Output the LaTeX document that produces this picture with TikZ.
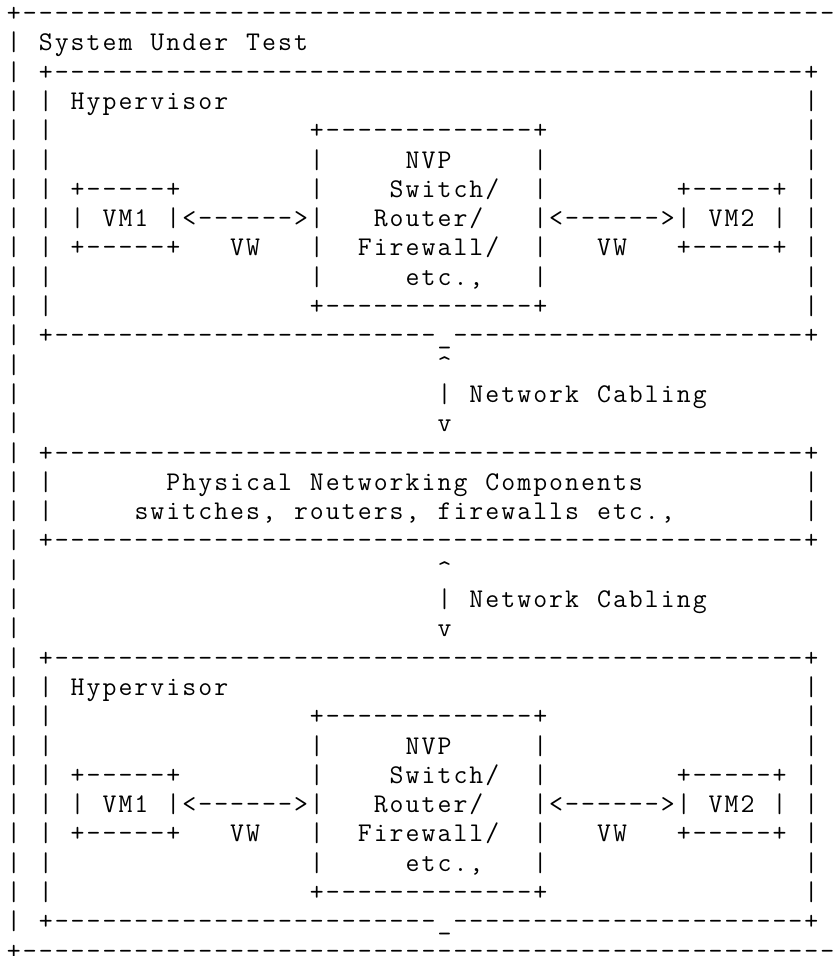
\documentclass[tikz,border=0pt]{standalone}
\newdimen\asciicw
\asciicw=15.95bp
\ExplSyntaxOn
\cs_new:Npn \asp #1 { \prg_replicate:nn {#1} { * } }
\cs_new:Npn \adsh #1 { \prg_replicate:nn {#1} { - } }
\tl_new:N \l_ascii_row_tl
\cs_new_protected:Npn \asciirow #1
  {
    \tl_set:Nx \l_ascii_row_tl {#1}
    \tl_map_inline:Nn \l_ascii_row_tl
      {
        \str_case:nnF {##1}
          {
            {*} { \hbox_to_wd:nn { \asciicw } { } }
            {!} { \hbox_to_wd:nn { \asciicw } { \hfil \textunderscore \hfil } }
            {;} { \hbox_to_wd:nn { \asciicw } { \hfil \textasciicircum \hfil } }
          }
          { \hbox_to_wd:nn { \asciicw } { \hfil ##1 \hfil } }
      }
  }
\ExplSyntaxOff
\begin{document}
\begin{tikzpicture}[x=1bp,y=-1bp,
  arow/.style={anchor=base west,inner sep=0pt,outer sep=0pt,text=black,
    font=\fontsize{27bp}{30bp}\selectfont\ttfamily}]
\useasboundingbox (0,0) rectangle (840,956);
\fill[white] (0,0) rectangle (840,956);
% outer box top and title
\node[arow] (r0) at (5.9,{21.5+29.3*0}) {\asciirow{+\adsh{51}}};
\node[arow] (r1) at (5.9,{21.5+29.3*1}) {\asciirow{|*System*Under*Test}};
% upper hypervisor
\node[arow] (r2) at (5.9,{21.5+29.3*2}) {\asciirow{|*+\adsh{47}+}};
\node[arow] (r3) at (5.9,{21.5+29.3*3}) {\asciirow{|*|*Hypervisor\asp{36}|}};
\node[arow] (r4) at (5.9,{21.5+29.3*4}) {\asciirow{|*|\asp{16}+\adsh{13}+\asp{16}|}};
\node[arow] (r5) at (5.9,{21.5+29.3*5}) {\asciirow{|*|\asp{16}|\asp{5}NVP\asp{5}|\asp{16}|}};
\node[arow] (r6) at (5.9,{21.5+29.3*6}) {\asciirow{|*|*+\adsh{5}+\asp{8}|\asp{4}Switch/\asp{2}|\asp{8}+\adsh{5}+*|}};
\node[arow] (r7) at (5.9,{21.5+29.3*7}) {\asciirow{|*|*|*VM1*|<\adsh{6}>|\asp{3}Router/\asp{3}|<\adsh{6}>|*VM2*|*|}};
\node[arow] (r8) at (5.9,{21.5+29.3*8}) {\asciirow{|*|*+\adsh{5}+\asp{3}VW\asp{3}|\asp{2}Firewall/\asp{2}|\asp{3}VW\asp{3}+\adsh{5}+*|}};
\node[arow] (r9) at (5.9,{21.5+29.3*9}) {\asciirow{|*|\asp{16}|\asp{5}etc.,\asp{3}|\asp{16}|}};
\node[arow] (r10) at (5.9,{21.5+29.3*10}) {\asciirow{|*|\asp{16}+\adsh{13}+\asp{16}|}};
\node[arow] (r11) at (5.9,{21.5+29.3*11}) {\asciirow{|*+\adsh{24}!\adsh{22}+}};
% cabling
\node[arow] (r12) at (5.9,{21.5+29.3*12}) {\asciirow{|\asp{26};}};
\node[arow] (r13) at (5.9,{21.5+29.3*13}) {\asciirow{|\asp{26}|*Network*Cabling}};
\node[arow] (r14) at (5.9,{21.5+29.3*14}) {\asciirow{|\asp{26}v}};
% physical networking components
\node[arow] (r15) at (5.9,{21.5+29.3*15}) {\asciirow{|*+\adsh{47}+}};
\node[arow] (r16) at (5.9,{21.5+29.3*16}) {\asciirow{|*|\asp{7}Physical*Networking*Components\asp{10}|}};
\node[arow] (r17) at (5.9,{21.5+29.3*17}) {\asciirow{|*|\asp{5}switches,*routers,*firewalls*etc.,\asp{8}|}};
\node[arow] (r18) at (5.9,{21.5+29.3*18}) {\asciirow{|*+\adsh{47}+}};
% cabling
\node[arow] (r19) at (5.9,{21.5+29.3*19}) {\asciirow{|\asp{26};}};
\node[arow] (r20) at (5.9,{21.5+29.3*20}) {\asciirow{|\asp{26}|*Network*Cabling}};
\node[arow] (r21) at (5.9,{21.5+29.3*21}) {\asciirow{|\asp{26}v}};
% lower hypervisor
\node[arow] (r22) at (5.9,{21.5+29.3*22}) {\asciirow{|*+\adsh{47}+}};
\node[arow] (r23) at (5.9,{21.5+29.3*23}) {\asciirow{|*|*Hypervisor\asp{36}|}};
\node[arow] (r24) at (5.9,{21.5+29.3*24}) {\asciirow{|*|\asp{16}+\adsh{13}+\asp{16}|}};
\node[arow] (r25) at (5.9,{21.5+29.3*25}) {\asciirow{|*|\asp{16}|\asp{5}NVP\asp{5}|\asp{16}|}};
\node[arow] (r26) at (5.9,{21.5+29.3*26}) {\asciirow{|*|*+\adsh{5}+\asp{8}|\asp{4}Switch/\asp{2}|\asp{8}+\adsh{5}+*|}};
\node[arow] (r27) at (5.9,{21.5+29.3*27}) {\asciirow{|*|*|*VM1*|<\adsh{6}>|\asp{3}Router/\asp{3}|<\adsh{6}>|*VM2*|*|}};
\node[arow] (r28) at (5.9,{21.5+29.3*28}) {\asciirow{|*|*+\adsh{5}+\asp{3}VW\asp{3}|\asp{2}Firewall/\asp{2}|\asp{3}VW\asp{3}+\adsh{5}+*|}};
\node[arow] (r29) at (5.9,{21.5+29.3*29}) {\asciirow{|*|\asp{16}|\asp{5}etc.,\asp{3}|\asp{16}|}};
\node[arow] (r30) at (5.9,{21.5+29.3*30}) {\asciirow{|*|\asp{16}+\adsh{13}+\asp{16}|}};
\node[arow] (r31) at (5.9,{21.5+29.3*31}) {\asciirow{|*+\adsh{24}!\adsh{22}+}};
% outer box bottom
\node[arow] (r32) at (5.9,{21.5+29.3*32}) {\asciirow{+\adsh{51}}};
\end{tikzpicture}
\end{document}
